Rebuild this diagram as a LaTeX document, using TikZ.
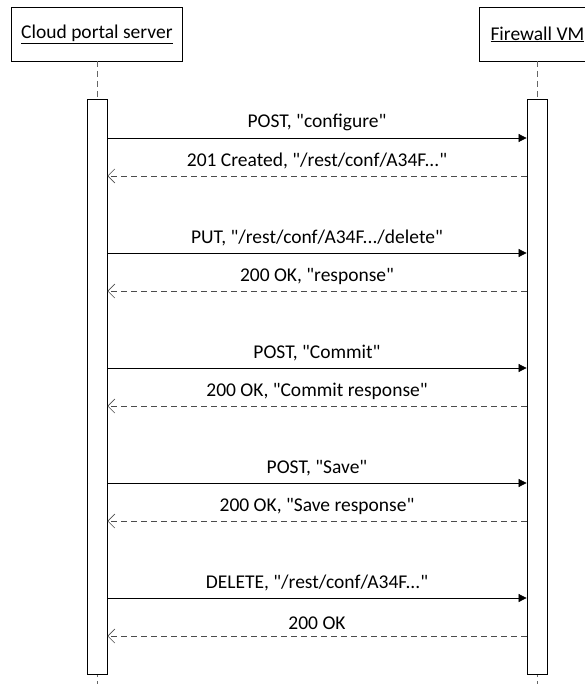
\documentclass[tikz,border=0pt]{standalone}
\usepackage{fontspec}
\setmainfont{Carlito}[Ligatures=TeXOff]
\usetikzlibrary{arrows.meta}
\begin{document}
\begin{tikzpicture}[x=1pt,y=-1pt,
  font=\fontsize{19.5}{22}\selectfont,
  actor/.style={draw,line width=0.8pt,minimum height=54pt,inner sep=0pt,anchor=north west},
  bar/.style={draw,fill=white,line width=0.8pt,minimum width=20pt,minimum height=575pt,inner sep=0pt,anchor=north},
  life/.style={draw=black!60,dashed,dash pattern=on 6pt off 4pt,line width=0.8pt},
  msg/.style={-{Triangle[length=8pt,width=8pt]},line width=0.7pt},
  ret/.style={-{Straight Barb[length=7pt,width=14pt,line width=0.6pt]},dashed,dash pattern=on 6pt off 4pt,draw=black!70,line width=0.7pt},
  lab/.style={above=3pt,midway,text=black}]
\useasboundingbox (0,0) rectangle (584,684);
\node[actor,minimum width=171pt] (A) at (11,7) {\underline{Cloud portal server}};
\node[actor,minimum width=116pt] (B) at (479,7) {\underline{Firewall VM}};
\coordinate (Aend) at (97,684);
\coordinate (Bend) at (537,684);
\draw[life] (97,61) -- (Aend);
\draw[life] (537,61) -- (Bend);
\node[bar] (Abar) at (97,99) {};
\node[bar] (Bbar) at (537,99) {};
\foreach \y/\m/\r in {138/{POST, "configure"}/{201 Created, "/rest/conf/A34F..."},
  253/{PUT, "/rest/conf/A34F.../delete"}/{200 OK, "response"},
  368/{POST, "Commit"}/{200 OK, "Commit response"},
  483/{POST, "Save"}/{200 OK, "Save response"},
  598/{DELETE, "/rest/conf/A34F..."}/{200 OK}}{
  \draw[msg] (Abar.east |- 0,\y) -- node[lab]{\m} (Bbar.west |- 0,\y);
  \draw[ret] (Bbar.west |- 0,\y+38) -- node[lab]{\r} (Abar.east |- 0,\y+38);
}
\end{tikzpicture}
\end{document}
